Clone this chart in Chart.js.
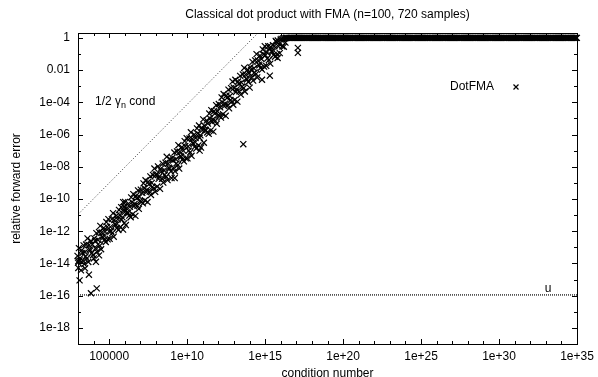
<!DOCTYPE html>
<html>
<head>
<meta charset="utf-8">
<script src="https://cdn.jsdelivr.net/npm/chart.js@4.4.1/dist/chart.umd.min.js"></script>
<style>
  html, body { margin: 0; padding: 0; background: #fff; }
  #wrap { width: 598px; height: 377px; }
</style>
</head>
<body>
<div id="wrap"><canvas id="chart" width="598" height="377"></canvas></div>
<script>
// Chart text
const titleText = 'Classical dot product with FMA (n=100, 720 samples)';
const xAxisTitle = 'condition number';
const yAxisTitle = 'relative forward error';

// Tick positions (powers of ten) and their labels
const xTickExps = [5, 10, 15, 20, 25, 30, 35];
const xTickLabels = ['100000', '1e+10', '1e+15', '1e+20', '1e+25', '1e+30', '1e+35'];
const yTickExps = [0, -2, -4, -6, -8, -10, -12, -14, -16, -18];
const yTickLabels = ['1', '0.01', '1e-04', '1e-06', '1e-08', '1e-10', '1e-12', '1e-14', '1e-16', '1e-18'];

// DotFMA samples below saturation, as [log10 cond, log10 error]
const dotFmaBand = [
    // 1e3 .. 1e4
    [2.97,-13.53],[3.02,-14.28],[3.06,-13.05],[3.1,-13.81],[3.14,-13.67],[3.19,-14.43],[3.23,-13.19],[3.28,-13.35],
    [3.31,-13.82],[3.36,-12.88],[3.4,-14.04],[3.44,-13.30],[3.49,-13.56],[3.52,-12.83],[3.57,-13.69],[3.61,-12.45],
    [3.66,-13.91],[3.7,-12.87],[3.74,-13.13],[3.79,-13.19],[3.83,-12.60],[3.88,-13.36],[3.92,-12.82],[3.96,-13.49],
    [3.1,-15.05],[3.7,-14.7],[3.83,-15.85],[3.45,-14.3],[3.0,-13.95],[3.02,-13.85],
    // 1e4 .. 1e5
    [4.01,-13.69],[4.05,-12.45],[4.1,-12.60],[4.13,-13.07],[4.18,-12.12],[4.22,-13.28],[4.27,-12.53],[4.3,-12.80],
    [4.35,-12.05],[4.39,-12.91],[4.43,-11.67],[4.48,-13.12],[4.52,-12.08],[4.57,-12.33],[4.6,-12.40],[4.65,-11.80],
    [4.69,-12.56],[4.73,-12.02],[4.78,-12.67],[4.82,-11.43],[4.87,-11.73],[4.9,-12.50],[4.95,-11.25],[4.99,-12.01],
    [4.15,-13.9],[4.2,-15.55],[4.35,-13.5],
    // 1e5 .. 1e6
    [5.03,-12.47],[5.08,-11.73],[5.12,-11.99],[5.17,-11.25],[5.2,-12.12],[5.25,-10.88],[5.29,-12.34],[5.33,-11.30],
    [5.38,-11.56],[5.42,-11.62],[5.47,-11.03],[5.5,-11.80],[5.55,-11.26],[5.59,-11.92],[5.63,-10.68],[5.68,-10.99],
    [5.72,-11.75],[5.77,-10.51],[5.8,-11.28],[5.85,-11.14],[5.89,-11.90],[5.93,-10.66],[5.98,-10.82],
    [5.95,-10.5],[5.97,-11.5],[5.9,-10.2],
    // 1e6 .. 1e7
    [6.02,-10.18],[6.07,-11.62],[6.11,-10.58],[6.16,-10.82],[6.2,-10.88],[6.24,-10.29],[6.29,-11.03],[6.33,-10.49],
    [6.38,-11.13],[6.41,-9.90],[6.46,-10.19],[6.5,-10.95],[6.55,-9.70],[6.59,-10.45],[6.63,-10.31],[6.68,-11.05],
    [6.72,-9.81],[6.76,-9.96],[6.81,-10.41],[6.85,-9.47],[6.9,-10.61],[6.94,-9.87],[6.98,-10.12],
    // 1e7 .. 1e8
    [7.03,-9.42],[7.07,-10.17],[7.12,-9.62],[7.16,-10.27],[7.2,-9.03],[7.25,-9.32],[7.29,-10.08],[7.33,-8.84],
    [7.38,-9.58],[7.42,-9.44],[7.46,-10.19],[7.51,-8.94],[7.55,-9.09],[7.6,-9.54],[7.64,-8.60],[7.68,-9.75],
    [7.73,-9.00],[7.77,-9.25],[7.81,-8.51],[7.86,-9.35],[7.9,-8.11],[7.95,-9.56],[7.99,-8.51],
    // 1e8 .. 1e9
    [8.04,-8.46],[8.08,-9.23],[8.13,-7.98],[8.17,-8.75],[8.21,-8.61],[8.26,-9.37],[8.3,-8.13],[8.34,-8.29],
    [8.39,-8.75],[8.43,-7.81],[8.47,-8.98],[8.52,-8.23],[8.56,-8.50],[8.61,-7.75],[8.65,-8.62],[8.69,-7.38],
    [8.74,-8.83],[8.78,-7.80],[8.82,-8.06],[8.87,-8.12],[8.91,-7.53],[8.96,-8.29],
    [9.2,-8.7],
    // 1e9 .. 1e10
    [9.0,-8.70],[9.05,-7.45],[9.09,-7.61],[9.13,-8.07],[9.18,-7.12],[9.22,-8.28],[9.27,-7.53],[9.31,-7.79],
    [9.35,-7.05],[9.4,-7.90],[9.44,-6.66],[9.49,-8.11],[9.53,-7.07],[9.57,-7.33],[9.62,-7.38],[9.66,-6.79],
    [9.7,-7.55],[9.75,-7.00],[9.79,-7.66],[9.84,-6.41],[9.88,-6.72],[9.92,-7.48],[9.97,-6.23],
    // 1e10 .. 1e11
    [10.02,-7.48],[10.06,-6.74],[10.1,-7.00],[10.15,-6.25],[10.19,-7.11],[10.24,-5.86],[10.28,-7.32],[10.32,-6.28],
    [10.37,-6.53],[10.41,-6.59],[10.45,-6.00],[10.5,-6.75],[10.54,-6.21],[10.58,-6.87],[10.63,-5.62],[10.67,-5.93],
    [10.72,-6.68],[10.76,-5.44],[10.8,-6.20],[10.85,-6.05],[10.89,-6.81],[10.93,-5.57],[10.98,-5.72],
    [10.8,-7.0],
    // 1e11 .. 1e12
    [11.03,-5.06],[11.07,-6.51],[11.11,-5.46],[11.16,-5.69],[11.2,-5.74],[11.25,-5.13],[11.29,-5.87],[11.33,-5.32],
    [11.38,-5.96],[11.42,-4.70],[11.46,-5.00],[11.51,-5.74],[11.55,-4.49],[11.6,-5.22],[11.64,-5.07],[11.68,-5.82],
    [11.73,-4.55],[11.77,-4.70],[11.81,-5.15],[11.86,-4.18],[11.9,-5.33],[11.95,-4.57],[11.99,-4.81],
    // 1e12 .. 1e13
    [12.03,-4.11],[12.08,-4.85],[12.12,-4.31],[12.17,-4.95],[12.21,-3.70],[12.26,-3.99],[12.3,-4.74],[12.34,-3.49],
    [12.39,-4.23],[12.43,-4.08],[12.47,-4.84],[12.52,-3.58],[12.56,-3.73],[12.61,-4.17],[12.65,-3.22],[12.69,-4.37],
    [12.74,-3.61],[12.78,-3.86],[12.82,-3.12],[12.87,-3.96],[12.91,-2.71],[12.96,-4.15],
    // 1e13 .. 1e14
    [13.0,-3.10],[13.04,-3.86],[13.09,-2.60],[13.13,-3.36],[13.18,-3.20],[13.22,-3.96],[13.26,-2.71],[13.31,-2.86],
    [13.35,-3.32],[13.4,-2.36],[13.44,-3.52],[13.48,-2.77],[13.53,-3.02],[13.57,-2.27],[13.62,-3.12],[13.66,-1.87],
    [13.7,-3.33],[13.75,-2.28],[13.79,-2.53],[13.84,-2.58],[13.88,-1.98],[13.92,-2.74],[13.97,-2.18],
    [13.6,-6.6],
    // 1e14 .. 1e15
    [14.01,-3.09],[14.06,-1.83],[14.1,-1.99],[14.14,-2.45],[14.19,-1.49],[14.23,-2.65],[14.28,-1.89],[14.32,-2.15],
    [14.36,-1.40],[14.41,-2.25],[14.45,-1.01],[14.49,-2.46],[14.54,-1.41],[14.58,-1.66],[14.63,-1.71],[14.67,-1.11],
    [14.71,-1.87],[14.76,-1.31],[14.8,-1.97],[14.85,-0.72],[14.89,-1.02],[14.93,-1.78],[14.98,-0.52],
    [14.8,-2.6],[15.3,-2.35],
    // 1e15 .. saturation
    [15.02,-1.08],[15.07,-1.74],[15.11,-0.90],[15.15,-1.27],[15.2,-0.52],[15.24,-1.38],[15.29,-0.64],[15.33,-1.60],
    [15.37,-0.57],[15.42,-0.82],[15.46,-0.89],[15.5,-0.45],[15.55,-1.06],[15.59,-0.52],[15.64,-1.17],[15.68,-0.19],
    [15.72,-0.25],[15.77,-1.01],[15.81,-0.17],[15.86,-0.53],[15.9,-0.39],[15.94,-0.95],[15.99,-0.11],[16.05,-0.07],
    [16.1,-0.53],[16.15,-0.04],[16.2,-0.55],[16.25,-0.02],[16.3,-0.29],[16.35,-0.01],
    [15.8,-1.25],[17.1,-0.62],[17.1,-0.93]
];

// DotFMA samples saturated at error = 1, as log10 cond
const dotFmaSaturated = [
    16.35,16.41,16.5,16.56,16.62,16.7,16.77,16.83,16.9,16.98,
    17.03,17.11,17.17,17.24,17.3,17.38,17.45,17.51,17.58,17.66,17.72,17.79,17.86,17.93,17.99,
    18.06,18.13,18.2,18.26,18.34,18.4,18.47,18.55,18.61,18.68,18.74,18.82,18.88,18.95,
    19.02,19.09,19.15,19.23,19.3,19.36,19.43,19.5,19.57,19.64,19.7,19.78,19.85,19.91,19.98,
    20.05,20.12,20.19,20.25,20.33,20.4,20.46,20.53,20.61,20.67,20.74,20.8,20.88,20.95,
    21.01,21.08,21.16,21.22,21.29,21.36,21.43,21.49,21.57,21.64,21.7,21.77,21.84,21.91,21.97,
    22.04,22.11,22.18,22.25,22.32,22.38,22.46,22.52,22.59,22.66,22.73,22.8,22.86,22.94,
    23.0,23.07,23.14,23.21,23.28,23.34,23.42,23.48,23.55,23.63,23.69,23.76,23.83,23.9,23.96,
    24.03,24.1,24.17,24.24,24.3,24.38,24.45,24.51,24.58,24.65,24.72,24.79,24.86,24.92,24.99,
    25.06,25.13,25.2,25.26,25.34,25.4,25.47,25.55,25.61,25.68,25.75,25.81,25.89,25.96,
    26.02,26.09,26.16,26.23,26.3,26.37,26.43,26.51,26.57,26.64,26.71,26.78,26.85,26.92,26.98,
    27.05,27.12,27.19,27.26,27.32,27.4,27.46,27.53,27.6,27.67,27.74,27.81,27.88,27.94,
    28.01,28.08,28.15,28.22,28.29,28.35,28.43,28.49,28.56,28.63,28.7,28.77,28.84,28.9,28.97,
    29.04,29.11,29.18,29.25,29.31,29.39,29.45,29.52,29.59,29.66,29.73,29.8,29.86,29.94,
    30.0,30.07,30.14,30.21,30.28,30.34,30.42,30.48,30.55,30.62,30.69,30.76,30.83,30.9,30.96,
    31.03,31.1,31.17,31.24,31.3,31.38,31.44,31.51,31.58,31.65,31.72,31.79,31.86,31.92,31.99,
    32.06,32.13,32.2,32.27,32.33,32.41,32.47,32.54,32.61,32.68,32.75,32.82,32.88,32.96,
    33.02,33.09,33.16,33.23,33.3,33.36,33.44,33.5,33.57,33.64,33.71,33.78,33.85,33.91,33.98,
    34.05,34.12,34.19,34.26,34.32,34.4,34.46,34.53,34.6,34.67,34.74,34.81,34.87,34.94,34.99
];

// 1/2 gamma_n * cond reference line (end points) and unit roundoff u
const gammaLine = [[1e3, 1.1e-11], [3.5e14, 2]];
const unitRoundoff = 1.11e-16;

const FONT = '"Liberation Sans", Arial, Helvetica, sans-serif';

const dotFmaPoints = dotFmaBand.map(([lx, ly]) => ({ x: Math.pow(10, lx), y: Math.pow(10, ly) }))
    .concat(dotFmaSaturated.map(lx => ({ x: Math.pow(10, lx), y: 1 })));

// Frame, inward tick marks, tick labels, titles, key and annotations (gnuplot look)
const gnuplotFrame = {
    id: 'gnuplotFrame',
    afterDraw(chart) {
        const { ctx, chartArea: a, scales: { x, y } } = chart;
        ctx.save();
        ctx.strokeStyle = '#000';
        ctx.lineWidth = 1;
        ctx.strokeRect(Math.round(a.left) + 0.5, Math.round(a.top) + 0.5,
            Math.round(a.right - a.left), Math.round(a.bottom - a.top));

        ctx.beginPath();
        for (let e = 3; e <= 35; e++) {
            const len = xTickExps.includes(e) ? 5 : 3;
            const px = Math.round(x.getPixelForValue(Math.pow(10, e))) + 0.5;
            ctx.moveTo(px, a.bottom); ctx.lineTo(px, a.bottom - len);
            ctx.moveTo(px, a.top); ctx.lineTo(px, a.top + len);
        }
        for (let e = -19; e <= 0; e++) {
            const len = yTickExps.includes(e) ? 5 : 3;
            const py = Math.round(y.getPixelForValue(Math.pow(10, e))) + 0.5;
            ctx.moveTo(a.left, py); ctx.lineTo(a.left + len, py);
            ctx.moveTo(a.right, py); ctx.lineTo(a.right - len, py);
        }
        ctx.stroke();

        ctx.fillStyle = '#000';
        ctx.font = '12px ' + FONT;
        ctx.textBaseline = 'middle';

        // tick labels
        ctx.textAlign = 'center';
        xTickExps.forEach((e, i) => {
            ctx.fillText(xTickLabels[i], x.getPixelForValue(Math.pow(10, e)), 357);
        });
        ctx.textAlign = 'right';
        yTickExps.forEach((e, i) => {
            ctx.fillText(yTickLabels[i], a.left - 8, y.getPixelForValue(Math.pow(10, e)));
        });

        // titles
        ctx.textAlign = 'center';
        ctx.fillText(titleText, (a.left + a.right) / 2, 15);
        ctx.fillText(xAxisTitle, (a.left + a.right) / 2, 374);
        ctx.save();
        ctx.translate(16.5, (a.top + a.bottom) / 2);
        ctx.rotate(-Math.PI / 2);
        ctx.fillText(yAxisTitle, 0, 0);
        ctx.restore();

        // key
        ctx.textAlign = 'right';
        ctx.fillText('DotFMA', 494, 87);
        ctx.lineWidth = 1.2;
        ctx.beginPath();
        ctx.moveTo(513.5, 84.5); ctx.lineTo(518.5, 89.5);
        ctx.moveTo(518.5, 84.5); ctx.lineTo(513.5, 89.5);
        ctx.stroke();

        // 1/2 gamma_n cond label
        ctx.textAlign = 'left';
        let tx = 95;
        ctx.fillText('1/2 \u03B3', tx, 102);
        tx += ctx.measureText('1/2 \u03B3').width;
        ctx.font = '9px ' + FONT;
        ctx.fillText('n', tx, 106);
        tx += ctx.measureText('n').width;
        ctx.font = '12px ' + FONT;
        ctx.fillText(' cond', tx, 102);

        // u label
        ctx.textAlign = 'center';
        ctx.fillText('u', 548, 289);
        ctx.restore();
    }
};

new Chart(document.getElementById('chart'), {
    type: 'scatter',
    data: {
        datasets: [
            {
                label: 'DotFMA',
                data: dotFmaPoints,
                pointStyle: 'crossRot',
                pointRadius: 4.3,
                pointBorderWidth: 1.2,
                borderColor: '#000',
                backgroundColor: '#000',
                clip: false
            },
            {
                label: '1/2 gamma_n cond',
                data: gammaLine.map(([x, y]) => ({ x, y })),
                showLine: true,
                pointRadius: 0,
                borderColor: '#333',
                borderWidth: 1,
                borderDash: [1, 2]
            },
            {
                label: 'u',
                data: [{ x: 1e3, y: unitRoundoff }, { x: 1e35, y: unitRoundoff }],
                showLine: true,
                pointRadius: 0,
                borderColor: '#000',
                borderWidth: 1.2,
                borderDash: [1, 1]
            }
        ]
    },
    options: {
        responsive: false,
        animation: false,
        devicePixelRatio: 1,
        layout: { padding: { top: 33, right: 21, left: 0, bottom: 0 } },
        plugins: {
            legend: { display: false },
            title: { display: false },
            tooltip: { enabled: false }
        },
        scales: {
            x: {
                type: 'logarithmic',
                min: 1e3,
                max: 1e35,
                grid: { display: false },
                border: { display: false },
                ticks: { display: false },
                afterFit: s => { s.height = 33; }
            },
            y: {
                type: 'logarithmic',
                min: 1e-19,
                max: 2,
                grid: { display: false },
                border: { display: false },
                ticks: { display: false },
                afterFit: s => { s.width = 78; }
            }
        }
    },
    plugins: [gnuplotFrame]
});
</script>
</body>
</html>
